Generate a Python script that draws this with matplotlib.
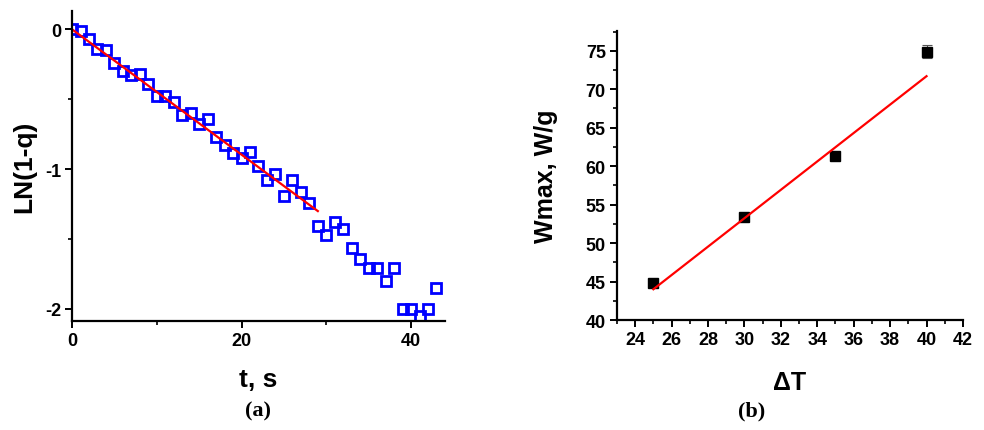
import matplotlib
matplotlib.use("Agg")
import matplotlib.pyplot as plt
from matplotlib.ticker import MultipleLocator

# ---- data panel (a) ----
t_s = list(range(0, 44))
ln_1q = [0.0, -0.01, -0.07, -0.14, -0.15, -0.24, -0.30, -0.33, -0.32, -0.39,
         -0.48, -0.48, -0.52, -0.61, -0.60, -0.68, -0.64, -0.77, -0.83, -0.886,
         -0.917, -0.88, -0.976, -1.08, -1.036, -1.19, -1.076, -1.167, -1.24, -1.41,
         -1.47, -1.376, -1.43, -1.567, -1.64, -1.71, -1.71, -1.80, -1.71, -2.0,
         -2.0, -2.05, -2.0, -1.85]
fit_a_t = [0.0, 29.0]
fit_a_v = [0.0, -1.30]
a_xticks = [0, 20, 40]
a_yticks = [0, -1, -2]
a_yticklabels = ['0', '-1', '-2']

# ---- data panel (b) ----
dT = [25, 30, 35, 40]
wmax = [44.8, 53.4, 61.3, 74.9]
wmax_err = [0.3, 0.3, 0.3, 0.88]
fit_b_x = [25, 40]
fit_b_y = [44.0, 71.7]
b_xticks = list(range(24, 43, 2))
b_yticks = [40, 45, 50, 55, 60, 65, 70, 75]

plt.rcParams['font.family'] = ['Liberation Sans', 'DejaVu Sans']
plt.rcParams['font.weight'] = 'bold'

fig = plt.figure(figsize=(9.84, 4.31), dpi=100)
axA = fig.add_axes([0.0732, 0.2529, 0.379, 0.719])
axB = fig.add_axes([0.627, 0.2552, 0.3516, 0.671])

TICK_FS = 13
for ax in (axA, axB):
    for side in ('top', 'right'):
        ax.spines[side].set_visible(False)
    for side in ('left', 'bottom'):
        ax.spines[side].set_linewidth(1.6)
    ax.tick_params(which='major', direction='out', length=5, width=1.4, pad=3)
    ax.tick_params(which='minor', direction='out', length=3, width=1.2)

# panel (a)
axA.plot(t_s, ln_1q, linestyle='none', marker='s', markersize=7.5,
         markerfacecolor='none', markeredgecolor='#0000ff', markeredgewidth=2.0,
         clip_on=True)
axA.plot(fit_a_t, fit_a_v, color='#ff0000', linewidth=1.6)
axA.set_xlim(0, 44)
axA.set_ylim(-2.086, 0.13)
axA.xaxis.set_minor_locator(MultipleLocator(10))
axA.yaxis.set_minor_locator(MultipleLocator(0.5))
axA.set_xticks(a_xticks, [str(v) for v in a_xticks], fontsize=TICK_FS, fontweight='bold')
axA.set_yticks(a_yticks, a_yticklabels, fontsize=TICK_FS, fontweight='bold')
axA.set_xlabel('t, s', fontsize=19, fontweight='bold', labelpad=13)
axA.set_ylabel('LN(1-q)', fontsize=19, fontweight='bold', labelpad=6)

# panel (b)
axB.errorbar(dT, wmax, yerr=wmax_err, fmt='none', ecolor='#555555',
             elinewidth=0.8, capsize=3.5, capthick=0.8, zorder=2)
axB.plot(dT, wmax, linestyle='none', marker='s', markersize=7.5,
         markerfacecolor='black', markeredgecolor='black', zorder=3)
axB.plot(fit_b_x, fit_b_y, color='#ff0000', linewidth=1.6, zorder=4)
axB.set_xlim(23, 42)
axB.set_ylim(40, 77.6)
axB.xaxis.set_minor_locator(MultipleLocator(1))
axB.yaxis.set_minor_locator(MultipleLocator(2.5))
axB.set_xticks(b_xticks, [str(v) for v in b_xticks], fontsize=TICK_FS, fontweight='bold')
axB.set_yticks(b_yticks, [str(v) for v in b_yticks], fontsize=TICK_FS, fontweight='bold')
axB.set_xlabel('\u0394T', fontsize=18, fontweight='bold', labelpad=16)
axB.set_ylabel('Wmax, W/g', fontsize=18, fontweight='bold', labelpad=20)

fig.text(0.262, 0.045, '(a)', fontsize=16, fontweight='bold',
         family=['Liberation Serif', 'DejaVu Serif'], ha='center', va='center')
fig.text(0.764, 0.045, '(b)', fontsize=16, fontweight='bold',
         family=['Liberation Serif', 'DejaVu Serif'], ha='center', va='center')

fig.savefig('out.png', dpi=100)
